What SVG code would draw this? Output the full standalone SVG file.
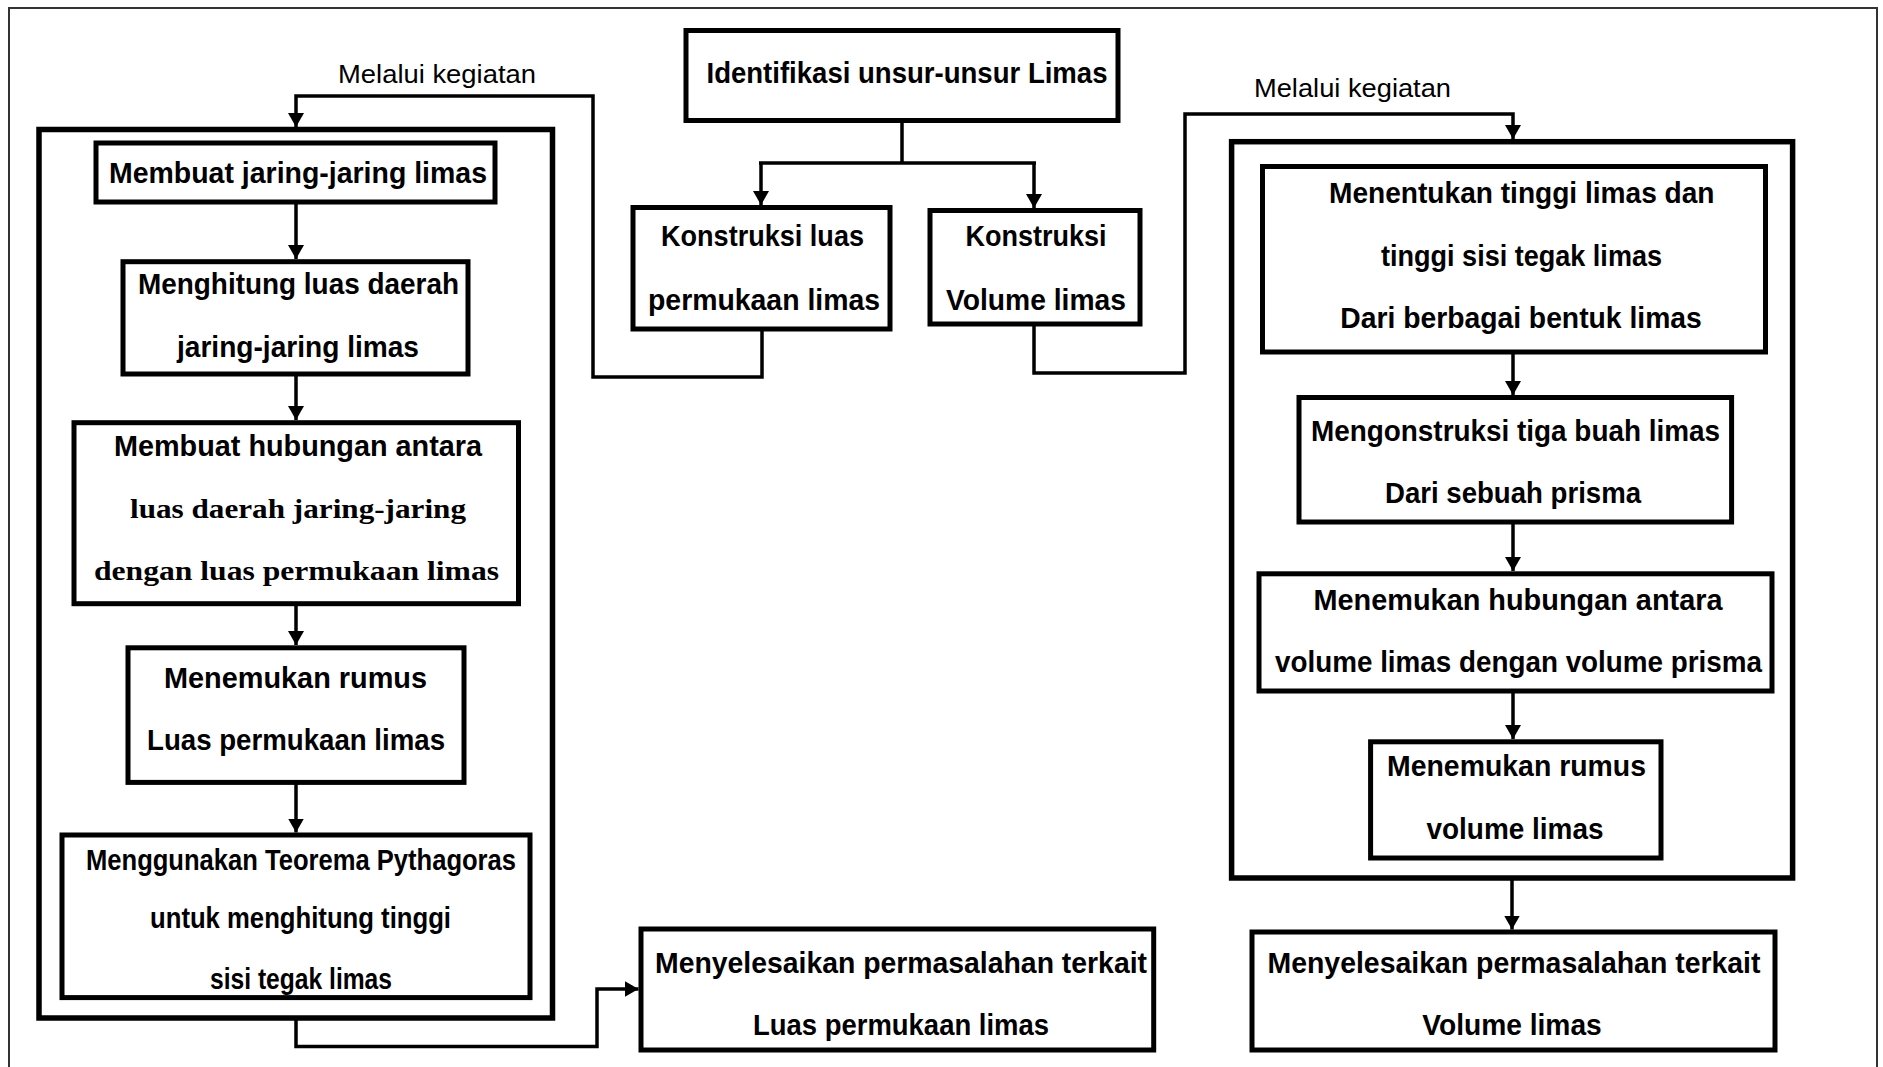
<svg xmlns="http://www.w3.org/2000/svg" width="1883" height="1067" viewBox="0 0 1883 1067">
<defs>
<marker id="ah" markerUnits="userSpaceOnUse" markerWidth="14" markerHeight="16" refX="14" refY="8" orient="auto" viewBox="0 0 14 16">
<path d="M0,0 L14,8 L0,16 z" fill="#000"/>
</marker>
<style>
.box{fill:#fff;stroke:#000;stroke-width:5}
.cont{fill:none;stroke:#000;stroke-width:5.5}
.con{fill:none;stroke:#000;stroke-width:3.5}
.t{font-family:"Liberation Sans",Arial,sans-serif;font-weight:bold;font-size:29px;text-anchor:middle;fill:#000}
.s{font-family:"Liberation Serif","Times New Roman",serif;font-weight:bold;font-size:28px;text-anchor:middle;fill:#000}
.lbl{font-family:"Liberation Sans",Arial,sans-serif;font-size:25px;text-anchor:middle;fill:#000}
</style>
</defs>
<rect x="0" y="0" width="1883" height="1067" fill="#fff"/>
<rect x="9" y="8" width="1868" height="1100" fill="none" stroke="#333" stroke-width="2"/>

<g id="containers">
<rect id="left-container" class="cont" x="39" y="129.5" width="513.5" height="888.5"/>
<rect id="right-container" class="cont" x="1231.6" y="141.7" width="561" height="736.3"/>
</g>

<g id="connectors">
<path class="con" d="M902,121 V163 M759,163 H1036"/>
<path class="con" d="M761,163 V205" marker-end="url(#ah)"/>
<path class="con" d="M1034,163 V208" marker-end="url(#ah)"/>
<path class="con" d="M762,329 V377 H593 V96 H296 V127" marker-end="url(#ah)"/>
<path class="con" d="M1034,324 V373 H1185 V114 H1513 V139" marker-end="url(#ah)"/>
<path class="con" d="M296,202 V259" marker-end="url(#ah)"/>
<path class="con" d="M296,374 V420" marker-end="url(#ah)"/>
<path class="con" d="M296,603.5 V645" marker-end="url(#ah)"/>
<path class="con" d="M296,782.4 V832.5" marker-end="url(#ah)"/>
<path class="con" d="M296,1018 V1046.5 H597 V989 H638.5" marker-end="url(#ah)"/>
<path class="con" d="M1513,352 V395" marker-end="url(#ah)"/>
<path class="con" d="M1513,522 V571" marker-end="url(#ah)"/>
<path class="con" d="M1513,691 V739" marker-end="url(#ah)"/>
<path class="con" d="M1512,878 V929.5" marker-end="url(#ah)"/>
<text class="lbl" x="437" y="83" textLength="198" lengthAdjust="spacingAndGlyphs">Melalui kegiatan</text>
<text class="lbl" x="1352.5" y="97" textLength="197" lengthAdjust="spacingAndGlyphs">Melalui kegiatan</text>
</g>

<g id="identifikasi">
<rect class="box" x="686" y="30.5" width="432" height="90"/>
<text class="t" x="907" y="82.5" textLength="401" lengthAdjust="spacingAndGlyphs">Identifikasi unsur-unsur Limas</text>
</g>

<g id="konstruksi-luas">
<rect class="box" x="633" y="207.5" width="257" height="121.5"/>
<text class="t" x="762.5" y="245.5" textLength="203" lengthAdjust="spacingAndGlyphs">Konstruksi luas</text>
<text class="t" x="764" y="309.5" textLength="232" lengthAdjust="spacingAndGlyphs">permukaan limas</text>
</g>

<g id="konstruksi-volume">
<rect class="box" x="930" y="210.5" width="210" height="113.5"/>
<text class="t" x="1036" y="245.5" textLength="141" lengthAdjust="spacingAndGlyphs">Konstruksi</text>
<text class="t" x="1036" y="309.5" textLength="180" lengthAdjust="spacingAndGlyphs">Volume limas</text>
</g>

<g id="membuat-jaring">
<rect class="box" x="96" y="143" width="399" height="59"/>
<text class="t" x="298" y="182.5" textLength="378" lengthAdjust="spacingAndGlyphs">Membuat jaring-jaring limas</text>
</g>

<g id="menghitung-luas">
<rect class="box" x="123" y="261.7" width="345" height="112.3"/>
<text class="t" x="298.5" y="294" textLength="321" lengthAdjust="spacingAndGlyphs">Menghitung luas daerah</text>
<text class="t" x="298" y="357" textLength="242" lengthAdjust="spacingAndGlyphs">jaring-jaring limas</text>
</g>

<g id="membuat-hubungan">
<rect class="box" x="74" y="422.7" width="444.5" height="181"/>
<text class="t" x="298" y="455.5" textLength="368" lengthAdjust="spacingAndGlyphs">Membuat hubungan antara</text>
<text class="s" x="298" y="517.5" textLength="336" lengthAdjust="spacingAndGlyphs">luas daerah jaring-jaring</text>
<text class="s" x="296.5" y="579.5" textLength="405" lengthAdjust="spacingAndGlyphs">dengan luas permukaan  limas</text>
</g>

<g id="rumus-luas">
<rect class="box" x="128" y="647.8" width="336" height="134.6"/>
<text class="t" x="295.5" y="687.5" textLength="263" lengthAdjust="spacingAndGlyphs">Menemukan rumus</text>
<text class="t" x="296" y="749.5" textLength="298" lengthAdjust="spacingAndGlyphs">Luas permukaan limas</text>
</g>

<g id="pythagoras">
<rect class="box" x="62" y="835" width="468" height="162.6"/>
<text class="t" x="301" y="869.5" textLength="430" lengthAdjust="spacingAndGlyphs">Menggunakan Teorema Pythagoras</text>
<text class="t" x="300.5" y="927.5" textLength="301" lengthAdjust="spacingAndGlyphs">untuk menghitung tinggi</text>
<text class="t" x="301" y="988.5" textLength="182" lengthAdjust="spacingAndGlyphs">sisi tegak limas</text>
</g>

<g id="masalah-luas">
<rect class="box" x="641" y="929" width="512.7" height="121"/>
<text class="t" x="901" y="972.5" textLength="492" lengthAdjust="spacingAndGlyphs">Menyelesaikan permasalahan terkait</text>
<text class="t" x="901" y="1034.5" textLength="296" lengthAdjust="spacingAndGlyphs">Luas permukaan limas</text>
</g>

<g id="menentukan-tinggi">
<rect class="box" x="1262.5" y="166.5" width="503" height="185.5"/>
<text class="t" x="1521.8" y="202.5" textLength="385.5" lengthAdjust="spacingAndGlyphs">Menentukan tinggi limas dan</text>
<text class="t" x="1521.5" y="265.5" textLength="281" lengthAdjust="spacingAndGlyphs">tinggi sisi tegak limas</text>
<text class="t" x="1521" y="327.5" textLength="361.5" lengthAdjust="spacingAndGlyphs">Dari berbagai bentuk limas</text>
</g>

<g id="mengonstruksi">
<rect class="box" x="1299" y="397.5" width="432.6" height="124.5"/>
<text class="t" x="1515.5" y="440.5" textLength="409" lengthAdjust="spacingAndGlyphs">Mengonstruksi tiga buah limas</text>
<text class="t" x="1513" y="502.5" textLength="256" lengthAdjust="spacingAndGlyphs">Dari sebuah prisma</text>
</g>

<g id="hubungan-volume">
<rect class="box" x="1259" y="573.8" width="513" height="117.2"/>
<text class="t" x="1518" y="610" textLength="409" lengthAdjust="spacingAndGlyphs">Menemukan hubungan antara</text>
<text class="t" x="1518.5" y="672" textLength="487" lengthAdjust="spacingAndGlyphs">volume limas dengan volume prisma</text>
</g>

<g id="rumus-volume">
<rect class="box" x="1370.6" y="741.8" width="290.4" height="116.2"/>
<text class="t" x="1516.5" y="776" textLength="259" lengthAdjust="spacingAndGlyphs">Menemukan rumus</text>
<text class="t" x="1515" y="839" textLength="177" lengthAdjust="spacingAndGlyphs">volume limas</text>
</g>

<g id="masalah-volume">
<rect class="box" x="1252" y="932" width="523" height="118"/>
<text class="t" x="1514" y="972.5" textLength="493" lengthAdjust="spacingAndGlyphs">Menyelesaikan permasalahan terkait</text>
<text class="t" x="1512" y="1034.5" textLength="179.5" lengthAdjust="spacingAndGlyphs">Volume limas</text>
</g>
</svg>
